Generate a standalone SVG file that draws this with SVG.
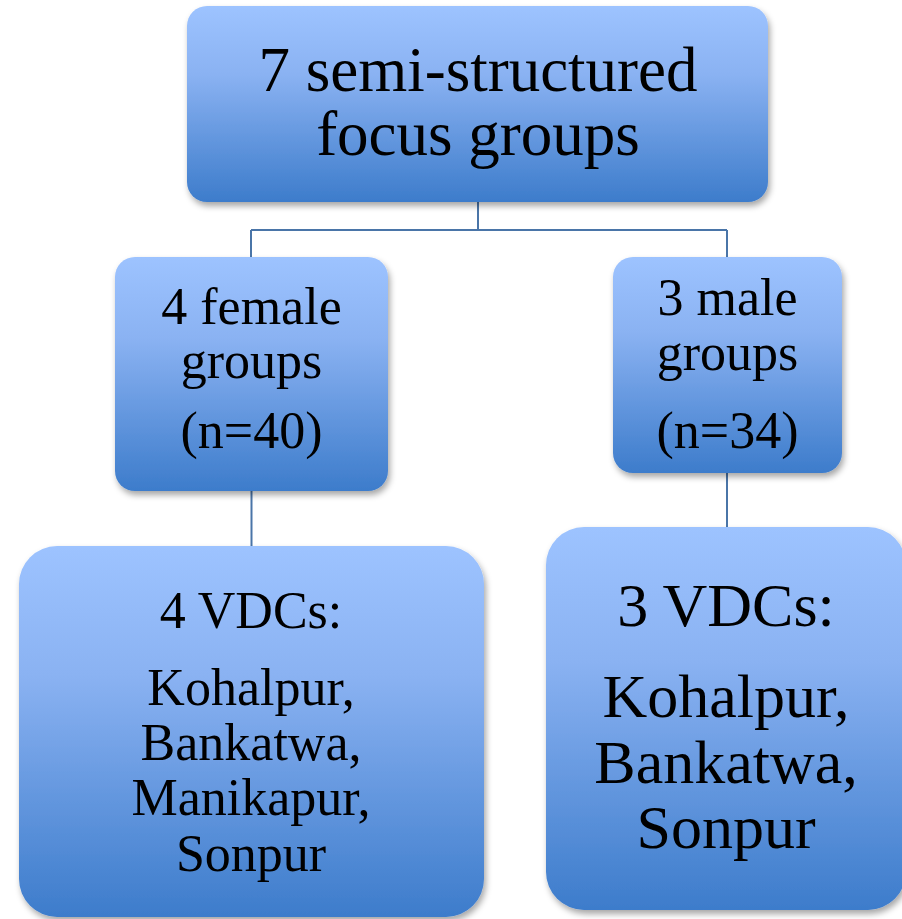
<svg xmlns="http://www.w3.org/2000/svg" width="902" height="919" viewBox="0 0 902 919">
<defs>
<linearGradient id="g" x1="0" y1="0" x2="0" y2="1">
<stop offset="0" stop-color="#9dc3ff"/>
<stop offset="0.35" stop-color="#8ab2f2"/>
<stop offset="1" stop-color="#3d7ccb"/>
</linearGradient>
<filter id="sh" x="-10%" y="-10%" width="125%" height="125%">
<feDropShadow dx="2" dy="4" stdDeviation="3" flood-color="#000" flood-opacity="0.35"/>
</filter>
<style>
.box{fill:url(#g);filter:url(#sh);}
.t{font-family:"Liberation Serif","Times New Roman",serif;fill:#000;text-anchor:middle;}
.c{stroke:#4a75a8;stroke-width:2;fill:none;}
</style>
</defs>
<rect width="902" height="919" fill="#fff"/>
<g id="connectors">
<path class="c" d="M478 202 V230 M251 230 H727 M251 230 V258 M727 230 V258"/>
<path class="c" d="M251.5 491 V547"/>
<path class="c" d="M727 473 V528"/>
</g>
<g id="top">
<rect class="box" x="187" y="6" width="581" height="196" rx="20"/>
<text class="t" font-size="63" x="478" y="91">7 semi-structured</text>
<text class="t" font-size="63" x="478" y="155">focus groups</text>
</g>
<g id="female">
<rect class="box" x="115" y="257" width="273" height="234" rx="20"/>
<text class="t" font-size="52" x="251.5" y="324">4 female</text>
<text class="t" font-size="52" x="251.5" y="378">groups</text>
<text class="t" font-size="52" x="251.5" y="448">(n=40)</text>
</g>
<g id="male">
<rect class="box" x="613" y="257" width="229" height="216" rx="20"/>
<text class="t" font-size="52" x="727.5" y="315">3 male</text>
<text class="t" font-size="52" x="727.5" y="370">groups</text>
<text class="t" font-size="52" x="727.5" y="448">(n=34)</text>
</g>
<g id="vdc4">
<rect class="box" x="19" y="546" width="465" height="371" rx="38"/>
<text class="t" font-size="52" x="251" y="628">4 VDCs:</text>
<text class="t" font-size="52" x="251" y="705">Kohalpur,</text>
<text class="t" font-size="52" x="251" y="760">Bankatwa,</text>
<text class="t" font-size="52" x="251" y="815">Manikapur,</text>
<text class="t" font-size="52" x="251" y="871">Sonpur</text>
</g>
<g id="vdc3">
<rect class="box" x="546" y="527" width="360" height="383" rx="38"/>
<text class="t" font-size="62" x="726" y="626">3 VDCs:</text>
<text class="t" font-size="62" x="726" y="717">Kohalpur,</text>
<text class="t" font-size="62" x="726" y="783">Bankatwa,</text>
<text class="t" font-size="62" x="726" y="848">Sonpur</text>
</g>
</svg>
